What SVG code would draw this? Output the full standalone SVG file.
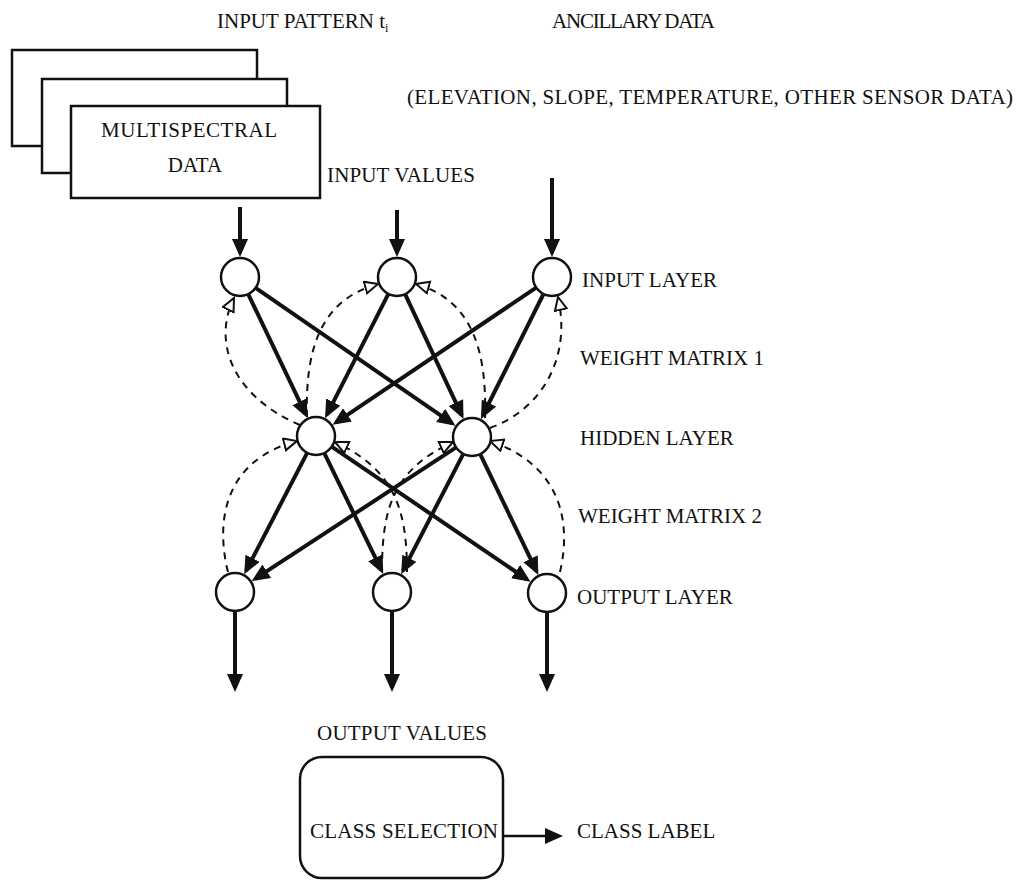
<svg xmlns="http://www.w3.org/2000/svg" width="1026" height="881" viewBox="0 0 1026 881">
<style>
text{font-family:"Liberation Serif","Times New Roman",serif;font-size:21px;fill:#111}
.box{fill:#fff;stroke:#111;stroke-width:2.5}
.node{fill:#fff;stroke:#111;stroke-width:2.5}
.fw{fill:none;stroke:#111;stroke-width:4;marker-end:url(#ah)}
.bk{fill:none;stroke:#111;stroke-width:2;stroke-dasharray:7 6;marker-end:url(#hh)}
</style>
<defs>
<marker id="ah" markerUnits="userSpaceOnUse" markerWidth="20" markerHeight="18" refX="14" refY="8" orient="auto" viewBox="0 0 20 18">
<path d="M0,0 L18,8 L0,16 z" fill="#111"/>
</marker>
<marker id="hh" markerUnits="userSpaceOnUse" markerWidth="18" markerHeight="16" refX="14" refY="7" orient="auto" viewBox="0 0 18 16">
<path d="M1,1 L14,7 L1,13 z" fill="#fff" stroke="#111" stroke-width="2" stroke-dasharray="none"/>
</marker>
</defs>
<rect width="1026" height="881" fill="#fff"/>

<g id="input-pattern">
<rect class="box" x="12" y="50" width="245" height="96"/>
<rect class="box" x="42" y="79" width="245" height="94"/>
<rect class="box" x="71" y="106" width="249" height="92"/>
<text x="101" y="137" textLength="176" lengthAdjust="spacing">MULTISPECTRAL</text>
<text x="195" y="172" text-anchor="middle">DATA</text>
</g>

<g id="labels">
<text x="217" y="28">INPUT PATTERN t<tspan font-size="12" dy="4">i</tspan></text>
<text x="552" y="28" textLength="163" lengthAdjust="spacing">ANCILLARY DATA</text>
<text x="407" y="104" textLength="606" lengthAdjust="spacing">(ELEVATION, SLOPE, TEMPERATURE, OTHER SENSOR DATA)</text>
<text x="327" y="182" textLength="148" lengthAdjust="spacing">INPUT VALUES</text>
<text x="582" y="287" textLength="135" lengthAdjust="spacing">INPUT LAYER</text>
<text x="580" y="365">WEIGHT MATRIX 1</text>
<text x="580" y="445">HIDDEN LAYER</text>
<text x="578" y="523">WEIGHT MATRIX 2</text>
<text x="577" y="604">OUTPUT LAYER</text>
<text x="317" y="740" textLength="170" lengthAdjust="spacing">OUTPUT VALUES</text>
<text x="577" y="838">CLASS LABEL</text>
</g>

<g id="connectors">
<path class="fw" d="M240,207 L240,253"/>
<path class="fw" d="M397,210 L397,253"/>
<path class="fw" d="M552,178 L552,253"/>

<path class="fw" d="M248.2,294.1 L305.7,414.4"/>
<path class="fw" d="M255.6,287.8 L452.2,423.4"/>
<path class="fw" d="M388.4,293.9 L326.9,414.6"/>
<path class="fw" d="M405.1,294.2 L461.8,415.3"/>
<path class="fw" d="M536.2,287.6 L335.9,422.6"/>
<path class="fw" d="M543.5,294.0 L482.7,415.5"/>

<path class="fw" d="M307.2,452.9 L246.1,570.7"/>
<path class="fw" d="M324.3,453.1 L381.5,570.4"/>
<path class="fw" d="M331.7,446.7 L527.2,579.5"/>
<path class="fw" d="M456.1,447.4 L255.1,578.9"/>
<path class="fw" d="M463.3,453.9 L403.0,570.7"/>
<path class="fw" d="M480.2,454.1 L536.6,571.4"/>

<path class="bk" d="M300,425 C230,395 213,340 234,298"/>
<path class="bk" d="M307,417 C305,350 320,300 378,284"/>
<path class="bk" d="M485,418 C487,350 472,300 416,284"/>
<path class="bk" d="M490,428 C540,410 572,360 558,297"/>

<path class="bk" d="M228,572 C215,520 225,460 297,441"/>
<path class="bk" d="M407,572 C407,510 395,470 335,442"/>
<path class="bk" d="M382,572 C382,510 392,470 453,442"/>
<path class="bk" d="M560,572 C572,520 560,465 490,441"/>

<path class="fw" d="M235,611 L235,688"/>
<path class="fw" d="M392,611 L392,688"/>
<path class="fw" d="M547,612 L547,688"/>
<path class="fw" d="M503,836 L559,836" style="stroke-width:2.5"/>
</g>

<g id="input-layer">
<circle class="node" cx="240" cy="277" r="19"/>
<circle class="node" cx="397" cy="277" r="19"/>
<circle class="node" cx="552" cy="277" r="19"/>
</g>
<g id="hidden-layer">
<circle class="node" cx="316" cy="436" r="19"/>
<circle class="node" cx="472" cy="437" r="19"/>
</g>
<g id="output-layer">
<circle class="node" cx="235" cy="592" r="19"/>
<circle class="node" cx="392" cy="592" r="19"/>
<circle class="node" cx="547" cy="593" r="19"/>
</g>

<g id="class-selection">
<rect class="box" x="300" y="757" width="203" height="121" rx="22"/>
<text x="310" y="838" textLength="188" lengthAdjust="spacing">CLASS SELECTION</text>
</g>
</svg>
